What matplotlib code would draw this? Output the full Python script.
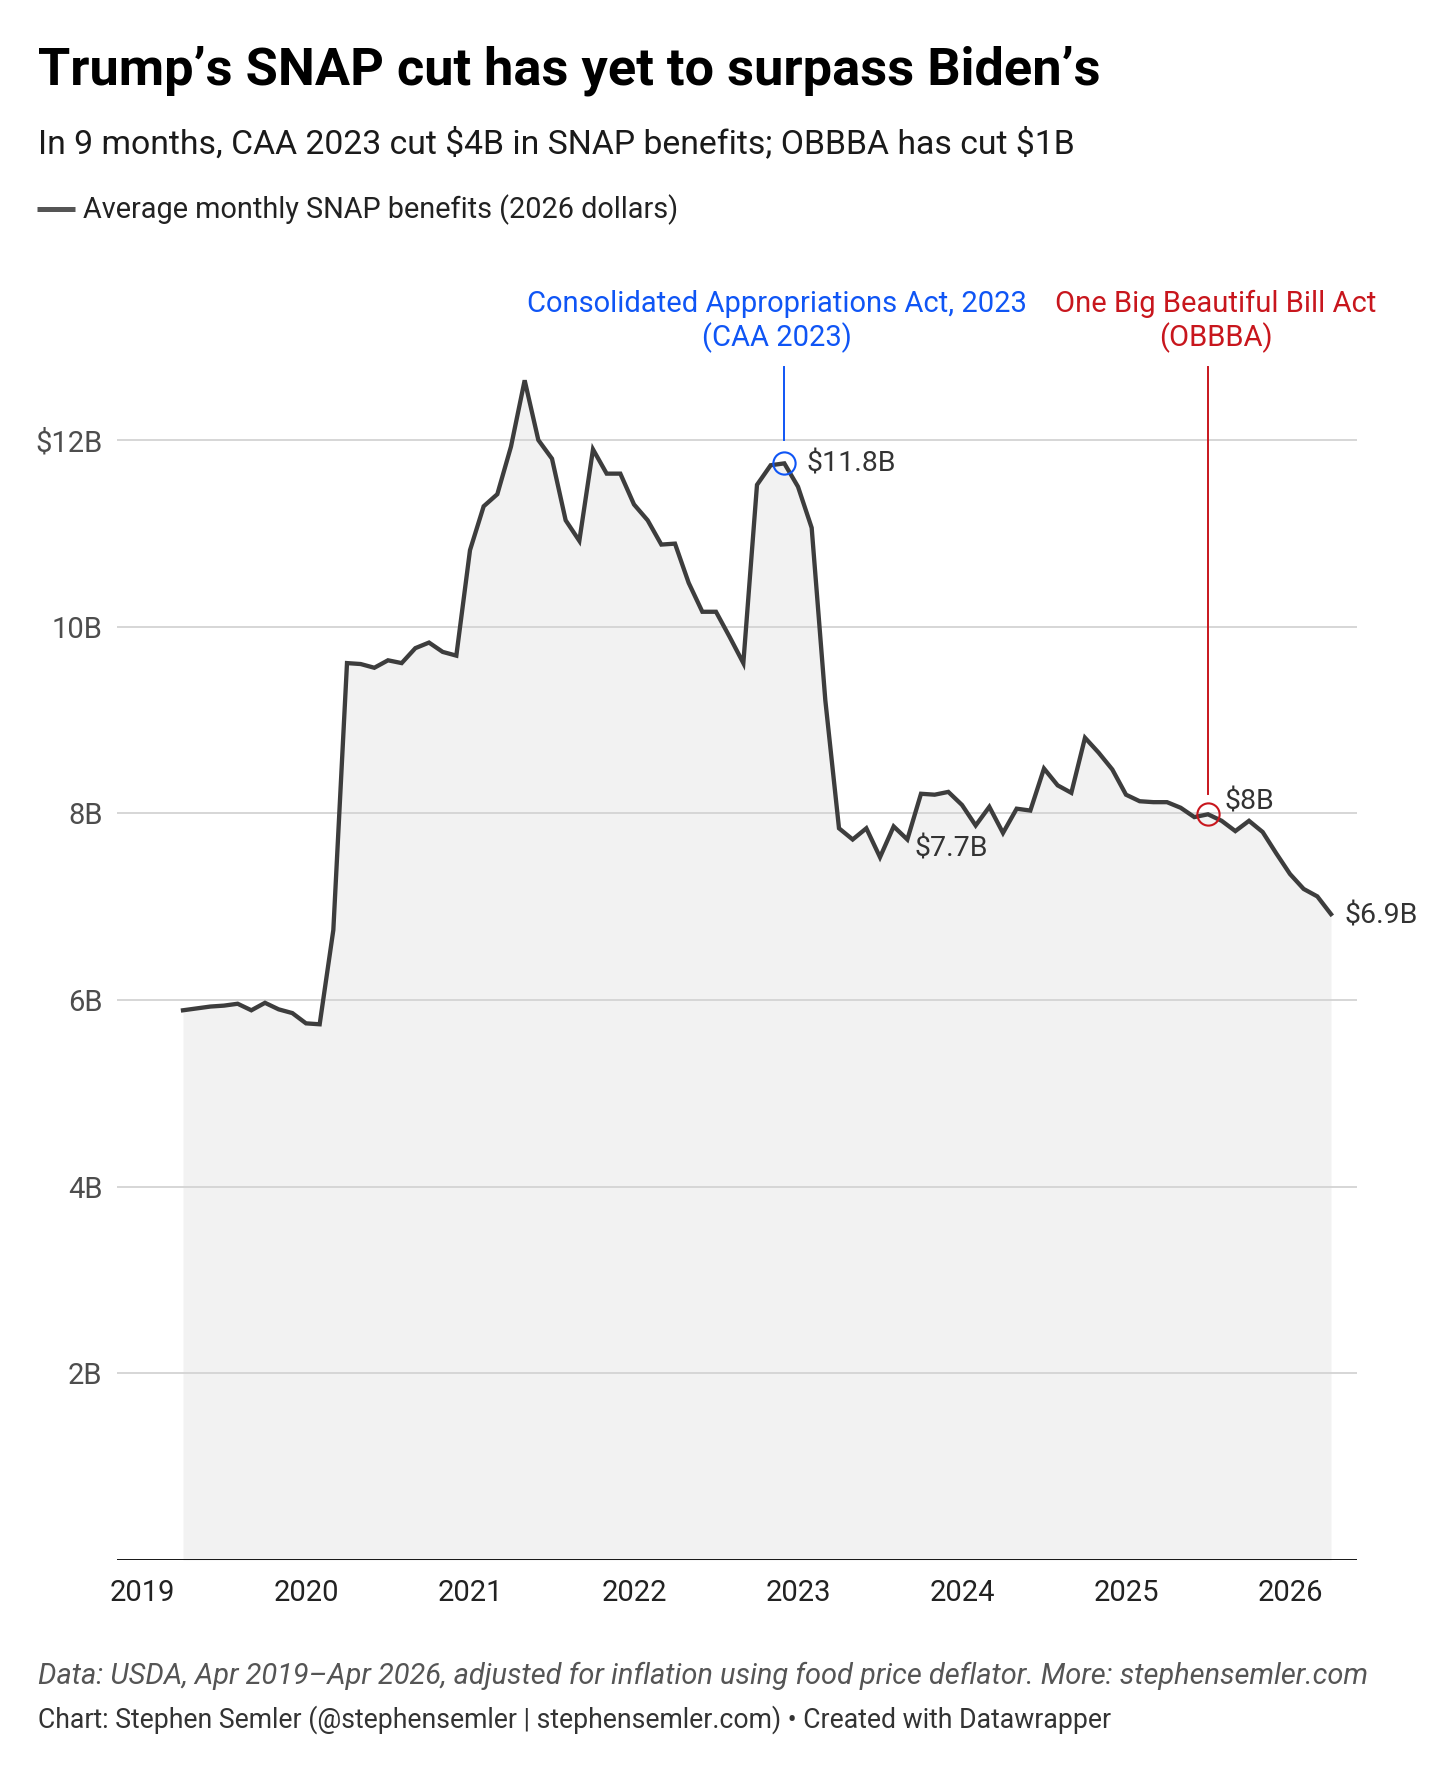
import numpy as np
import matplotlib.pyplot as plt
from matplotlib.lines import Line2D

plt.rcParams['font.family'] = ['Roboto', 'DejaVu Sans']
plt.rcParams['text.parse_math'] = False  # dollar signs are plain text here

# average monthly SNAP benefits, billions of 2026 dollars
snap_2019 = [5.89, 5.91, 5.93, 5.94, 5.96, 5.89, 5.97, 5.90, 5.86]  # Apr-Dec
snap_2020 = [5.75, 5.74, 6.75, 9.61, 9.60, 9.56, 9.64, 9.61, 9.77, 9.83, 9.73, 9.69]
snap_2021 = [10.82, 11.29, 11.42, 11.93, 12.64, 12.00, 11.80, 11.14, 10.92, 11.90, 11.64, 11.64]
snap_2022 = [11.31, 11.14, 10.88, 10.89, 10.47, 10.16, 10.16, 9.89, 9.61, 11.52, 11.73, 11.75]
snap_2023 = [11.50, 11.06, 9.21, 7.84, 7.72, 7.84, 7.53, 7.86, 7.72, 8.21, 8.20, 8.23]
snap_2024 = [8.09, 7.87, 8.07, 7.79, 8.05, 8.03, 8.48, 8.30, 8.22, 8.81, 8.65, 8.47]
snap_2025 = [8.20, 8.13, 8.12, 8.12, 8.06, 7.96, 7.99, 7.92, 7.81, 7.92, 7.80, 7.57]
snap_2026 = [7.35, 7.19, 7.11, 6.92]  # Jan-Apr

x_ticks = [2019, 2020, 2021, 2022, 2023, 2024, 2025, 2026]
y_ticks = [2, 4, 6, 8, 10, 12]
y_tick_labels = ['2B', '4B', '6B', '8B', '10B', '$12B']

# (first line, second line, year, month, colour)
events = [
    ('Consolidated Appropriations Act, 2023', '(CAA 2023)', 2022, 12, '#0f55f5'),
    ('One Big Beautiful Bill Act', '(OBBBA)', 2025, 7, '#c8161d'),
]
# (year, month, label)
value_labels = [(2022, 12, '$11.8B'), (2023, 9, '$7.7B'), (2025, 7, '$8B'), (2026, 4, '$6.9B')]

values = np.array(snap_2019 + snap_2020 + snap_2021 + snap_2022 +
                  snap_2023 + snap_2024 + snap_2025 + snap_2026)
dates = 2019 + 3 / 12 + np.arange(len(values)) / 12  # monthly, starting Apr 2019


def month_x(y, m):
    return y + (m - 1) / 12


def month_val(y, m):
    return values[int(round((month_x(y, m) - dates[0]) * 12))]


# figure layout (pixels)
W, H = 1456, 1771
fig = plt.figure(figsize=(W / 100, H / 100), dpi=100)
fig.patch.set_facecolor('white')
fx = lambda px: px / W
fy = lambda py: 1 - py / H

px_2019, px_year = 142, 164
ax_left, ax_right, ax_bottom = 117, 1357, 1560
px_per_b = 93.33
ymax = 14
ax_top = ax_bottom - ymax * px_per_b
ax = fig.add_axes([fx(ax_left), fy(ax_bottom), (ax_right - ax_left) / W, (ax_bottom - ax_top) / H])
ax.set_xlim(2019 + (ax_left - px_2019) / px_year, 2019 + (ax_right - px_2019) / px_year)
ax.set_ylim(0, ymax)

ax.fill_between(dates, values, 0, color='#f2f2f2', lw=0, zorder=1)
ax.plot(dates, values, color='#3d3d3d', lw=3.1, solid_joinstyle='miter', zorder=3)
ax.axhline(0, color='#000000', lw=2, zorder=4)

ax.set_yticks(y_ticks)
ax.set_yticklabels(y_tick_labels)
ax.set_xticks(x_ticks)
ax.set_xticklabels([str(y) for y in x_ticks])
ax.yaxis.grid(True, color='#d6d6d6', lw=1.4)
ax.set_axisbelow('line')
ax.tick_params(axis='y', length=0, pad=10.5, labelsize=21, labelcolor='#4d4d4d')
ax.tick_params(axis='x', length=0, pad=14, labelsize=21, labelcolor='#222222')
for s in ax.spines.values():
    s.set_visible(False)

# event annotations
event_dx = [-7, 8]
for (l1, l2, yr, mo, col), dx in zip(events, event_dx):
    ex, ev = month_x(yr, mo), month_val(yr, mo)
    ax.plot([ex], [ev], 'o', ms=16, mfc='none', mec=col, mew=1.5, zorder=5)
    top = 12.78
    bottom = 12.0 if ev > 10 else ev + 0.22
    ax.plot([ex, ex], [bottom, top], color=col, lw=1.4, zorder=5)
    ax.annotate(l1, xy=(ex, 13.37), xytext=(dx, 0), textcoords='offset pixels',
                ha='center', va='baseline', fontsize=21, color=col, annotation_clip=False)
    ax.annotate(l2, xy=(ex, 13.01), xytext=(dx, 0), textcoords='offset pixels',
                ha='center', va='baseline', fontsize=21, color=col, annotation_clip=False)

label_offsets = [(22, -1), (7, -10), (17, 12), (14, -2)]
for (yr, mo, txt), (dx, dy) in zip(value_labels, label_offsets):
    ax.annotate(txt, xy=(month_x(yr, mo), month_val(yr, mo)), xytext=(dx, dy),
                textcoords='offset pixels', ha='left', va='center', fontsize=20.5,
                color='#333333', annotation_clip=False)

# header
title = fig.text(fx(38), fy(85), 'Trump’s SNAP cut has yet to surpass Biden’s',
                 fontsize=39, fontweight='bold', color='#000000', va='baseline')
subtitle = fig.text(fx(38), fy(152.7), 'In 9 months, CAA 2023 cut $4B in SNAP benefits; OBBBA has cut $1B',
                    fontsize=24.5, color='#1a1a1a', va='baseline')
fig.add_artist(Line2D([fx(37), fx(74.5)], [fy(209), fy(209)], color='#555555', lw=3.6,
                      solid_capstyle='butt'))
legend_txt = fig.text(fx(83), fy(218.3), 'Average monthly SNAP benefits (2026 dollars)',
                      fontsize=20.3, color='#222222', va='baseline')

# footer
note = fig.text(fx(38), fy(1684), 'Data: USDA, Apr 2019–Apr 2026, adjusted for inflation using food price deflator. More: stephensemler.com',
                fontsize=20, style='italic', color='#555555', va='baseline')
credit = fig.text(fx(38), fy(1727.3), 'Chart: Stephen Semler (@stephensemler | stephensemler.com) • Created with Datawrapper',
                  fontsize=20, color='#333333', va='baseline')

# fit the header/footer text widths to the original (left, right in px)
renderer = fig.canvas.get_renderer()
for t, left, right in [(title, 38, 1101), (subtitle, 38, 1076), (legend_txt, 83, 680),
                       (note, 38, 1367), (credit, 38, 1105)]:
    w = t.get_window_extent(renderer).width
    t.set_fontsize(t.get_fontsize() * (right - left) / w)

fig.savefig('out.png', dpi=100, facecolor='white')
